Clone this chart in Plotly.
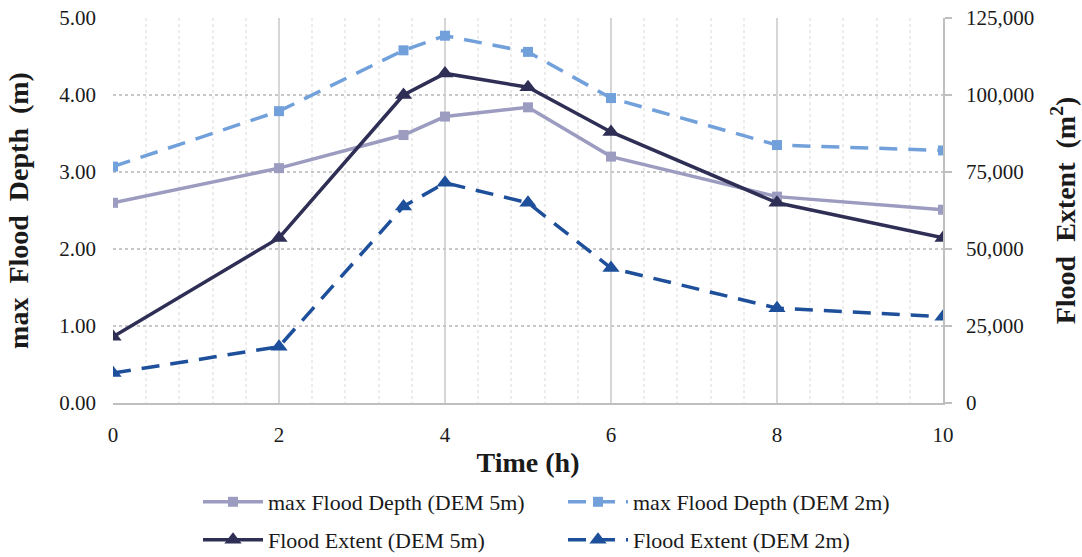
import plotly.graph_objects as go

time_h = [0, 2, 3.5, 4, 5, 6, 8, 10]
depth_dem5 = [2.60, 3.05, 3.48, 3.72, 3.84, 3.20, 2.68, 2.51]
depth_dem2 = [3.07, 3.79, 4.58, 4.77, 4.56, 3.96, 3.35, 3.28]
extent_dem5 = [21500, 53600, 100000, 107000, 102500, 88000, 65000, 53600]
extent_dem2 = [9700, 18300, 63800, 71500, 65000, 43800, 30800, 28000]

names = ["max Flood Depth (DEM 5m)", "max Flood Depth (DEM 2m)",
         "Flood Extent (DEM 5m)", "Flood Extent (DEM 2m)"]

FONT = '"Liberation Serif", "Times New Roman", serif'
TXT = "#1a1a1a"
NB = "\u00a0"

fig = go.Figure()
fig.add_trace(go.Scatter(x=time_h, y=depth_dem5, name=names[0], mode="lines+markers", legend="legend",
                         line=dict(color="#9c9bc0", width=3.5),
                         marker=dict(symbol="square", size=10, color="#9c9bc0")))
fig.add_trace(go.Scatter(x=time_h, y=depth_dem2, name=names[1], mode="lines+markers", legend="legend",
                         line=dict(color="#71a0db", width=3.5, dash="18px,11px"),
                         marker=dict(symbol="square", size=10, color="#71a0db")))
fig.add_trace(go.Scatter(x=time_h, y=extent_dem5, name=names[2], mode="lines+markers", yaxis="y2",
                         legend="legend2",
                         line=dict(color="#2f2e55", width=3.5),
                         marker=dict(symbol="triangle-up", size=15, color="#2f2e55")))
fig.add_trace(go.Scatter(x=time_h, y=extent_dem2, name=names[3], mode="lines+markers", yaxis="y2",
                         legend="legend2",
                         line=dict(color="#1d4f9a", width=3.5, dash="18px,11px"),
                         marker=dict(symbol="triangle-up", size=15, color="#1d4f9a")))

leg_common = dict(orientation="h", xanchor="left", yanchor="middle",
                  font=dict(family=FONT, size=22, color=TXT),
                  entrywidth=290, itemwidth=60, bgcolor="rgba(0,0,0,0)")

fig.update_layout(
    width=1082, height=557,
    margin=dict(l=113, r=139, t=18, b=154, autoexpand=False),
    paper_bgcolor="white", plot_bgcolor="white",
    font=dict(family=FONT, color=TXT, size=21),
    showlegend=True,
    legend=dict(x=(198 - 113) / 830, y=-(502 - 403) / 385, **leg_common),
    legend2=dict(x=(198 - 113) / 830, y=-(540 - 403) / 385, **leg_common),
    xaxis=dict(range=[0, 10], dtick=2, tick0=0, showgrid=True, gridcolor="#d6d6d6", gridwidth=1.5,
               zeroline=False, showline=True, linecolor="#bfbfbf", linewidth=1.5,
               ticks="", ticklabelstandoff=12, automargin=False,
               tickfont=dict(family=FONT, size=21, color=TXT),
               minor=dict(dtick=0.4, showgrid=True, gridcolor="#ececec", griddash="dot", gridwidth=1.5),
               title=dict(text="<b>Time (h)</b>", font=dict(family=FONT, size=28, color=TXT), standoff=6)),
    yaxis=dict(range=[0, 5], dtick=1, tickformat=".2f", showgrid=True, gridcolor="#c8c8c8",
               griddash="dot", gridwidth=1.5, zeroline=False, showline=False, ticks="",
               ticklabelstandoff=16, automargin=False,
               tickfont=dict(family=FONT, size=21, color=TXT),
               title=dict(text=f"<b>max{NB}{NB}Flood{NB}{NB}Depth{NB}{NB}(m)</b>",
                          font=dict(family=FONT, size=28, color=TXT), standoff=22)),
    yaxis2=dict(range=[0, 125000], dtick=25000, tickformat=",d", overlaying="y", side="right",
                showgrid=False, zeroline=False, showline=True, linecolor="#bfbfbf", linewidth=1.5,
                ticks="outside", ticklen=7, tickcolor="#bfbfbf", tickwidth=1.5,
                ticklabelstandoff=10, automargin=False,
                tickfont=dict(family=FONT, size=21, color=TXT),
                title=dict(text=f"<b>Flood{NB}{NB}Extent{NB}{NB}(m<sup>2</sup>)</b>",
                           font=dict(family=FONT, size=28, color=TXT), standoff=22)),
)

fig.write_html("out.html")
